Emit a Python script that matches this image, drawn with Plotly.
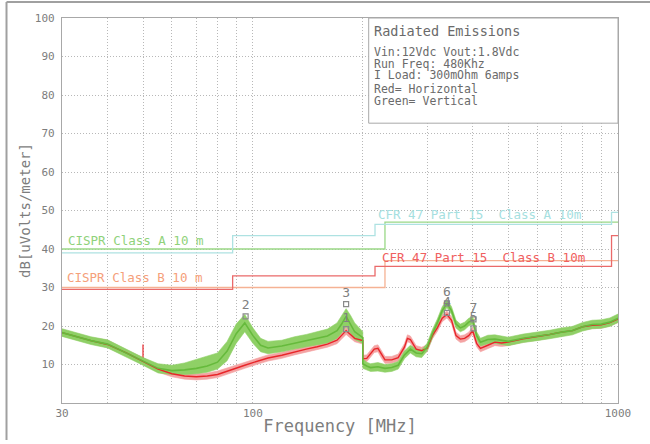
"""Radiated emissions scan with CISPR / FCC limit lines."""

import plotly.graph_objects as go

# --- measured spectrum, read as band (low/high) in dBuV/m ---
green_freq = [30, 33, 36, 40, 45, 50, 55, 60, 65, 70, 75, 80, 85, 90, 95, 100, 105, 110, 120, 130,
              140, 150, 160, 170, 175, 180, 185, 190, 200,
              200, 205, 210, 220, 230, 240, 250, 260, 270, 280, 290, 300, 310, 320, 330, 340, 350,
              360, 370, 380, 390, 400, 410, 420, 440, 460, 480, 500, 550, 600, 650, 700, 750, 800,
              850, 900, 950, 1000]
green_lo = [17.3, 16.2, 15.2, 14.3, 12.0, 9.8, 7.8, 7.4, 7.4, 7.6, 8.0, 8.8, 11.0, 15.5, 18.5, 15.5,
            13.3, 12.8, 13.3, 14.0, 14.6, 15.2, 15.6, 16.8, 18.2, 20.0, 18.2, 16.5, 15.5,
            9.0, 8.6, 8.2, 8.3, 8.0, 8.2, 8.8, 11.5, 13.0, 12.0, 11.8, 13.5, 17.0, 19.8, 23.0, 24.8,
            23.0, 19.5, 18.5, 19.0, 20.0, 20.5, 16.5, 14.8, 15.4, 15.5, 15.1, 14.9, 15.7, 16.2, 16.7,
            17.3, 17.7, 18.7, 19.3, 19.4, 19.9, 20.9]
green_hi = [19.3, 18.2, 17.2, 16.4, 14.0, 11.8, 10.2, 9.8, 10.4, 11.4, 12.2, 13.0, 16.0, 20.5, 23.0,
            19.5, 16.8, 16.0, 16.3, 17.2, 17.8, 18.5, 19.2, 20.8, 22.8, 24.5, 22.8, 20.8, 18.5,
            11.5, 10.6, 10.2, 10.5, 10.0, 10.2, 10.8, 13.5, 15.0, 14.0, 13.8, 15.5, 19.0, 21.8, 25.0,
            26.8, 25.0, 21.5, 20.5, 21.0, 22.0, 22.5, 18.5, 16.8, 17.6, 17.7, 17.3, 17.1, 17.9, 18.4,
            18.9, 19.5, 19.9, 20.9, 21.5, 21.6, 22.1, 23.1]
green_mid = [18.3, 17.2, 16.2, 15.3, 13.0, 10.8, 9.0, 8.4, 8.6, 9.0, 9.6, 10.6, 13.5, 18.0, 20.8,
             17.5, 15.0, 14.3, 14.8, 15.5, 16.2, 16.8, 17.4, 18.8, 20.5, 22.5, 20.5, 18.5, 17.0,
             10.2, 9.6, 9.2, 9.4, 9.0, 9.2, 9.8, 12.5, 14.0, 13.0, 12.8, 14.5, 18.0, 20.8, 24.0, 25.8,
             24.0, 20.5, 19.5, 20.0, 21.0, 21.5, 17.5, 15.8, 16.5, 16.6, 16.2, 16.0, 16.8, 17.3, 17.8,
             18.4, 18.8, 19.8, 20.4, 20.5, 21.0, 22.0]

red_freq = [30, 33, 36, 40, 45, 50, 55, 60, 65, 70, 75, 80, 85, 90, 95, 100, 105, 110, 120, 130,
            140, 150, 160, 170, 175, 180, 185, 190, 200,
            200, 205, 210, 215, 220, 225, 230, 240, 250, 260, 265, 270, 280, 290, 300, 310, 320, 330,
            340, 350, 360, 370, 380, 390, 400, 410, 420, 440, 460, 480, 500, 550, 600, 650, 700, 750,
            800, 850, 900, 950, 1000]
red_lo = [17.5, 16.4, 15.4, 14.4, 12.2, 10.0, 8.0, 6.8, 6.2, 6.0, 6.2, 6.6, 7.5, 8.2, 9.0, 9.7, 10.4,
          10.9, 11.6, 12.5, 13.2, 13.8, 14.5, 15.4, 16.6, 17.8, 16.9, 15.9, 15.3,
          10.6, 10.7, 11.9, 13.1, 13.3, 11.6, 10.3, 10.3, 10.9, 13.6, 15.9, 15.6, 13.1, 12.7, 13.3,
          16.6, 18.6, 21.1, 22.1, 20.6, 16.6, 15.7, 15.9, 16.6, 17.9, 14.6, 13.3, 14.1, 14.9, 14.7,
          14.9, 15.8, 16.3, 16.9, 17.5, 17.9, 18.9, 19.3, 19.4, 20.0, 20.9]
red_hi = [19.1, 18.0, 17.0, 16.3, 13.8, 11.8, 9.6, 8.4, 7.8, 7.6, 7.8, 8.3, 9.1, 9.8, 10.6, 11.3,
          12.0, 12.5, 13.2, 14.1, 14.8, 15.4, 16.1, 17.2, 18.4, 19.8, 18.7, 17.7, 17.1,
          12.4, 12.5, 13.7, 14.9, 15.1, 13.4, 12.1, 12.1, 12.7, 15.4, 17.7, 17.4, 14.9, 14.5, 15.1,
          18.4, 20.4, 22.9, 23.9, 22.4, 18.4, 17.5, 17.7, 18.4, 19.7, 16.4, 15.1, 15.9, 16.7, 16.5,
          16.7, 17.6, 18.1, 18.7, 19.3, 19.7, 20.7, 21.1, 21.2, 21.8, 22.7]
red_mid = [18.3, 17.2, 16.2, 15.2, 13.0, 10.8, 8.8, 7.6, 7.0, 6.8, 7.0, 7.4, 8.3, 9.0, 9.8, 10.5,
           11.2, 11.7, 12.4, 13.3, 14.0, 14.6, 15.3, 16.3, 17.5, 18.8, 17.8, 16.8, 16.2,
           11.5, 11.6, 12.8, 14.0, 14.2, 12.5, 11.2, 11.2, 11.8, 14.5, 16.8, 16.5, 14.0, 13.6, 14.2,
           17.5, 19.5, 22.0, 23.0, 21.5, 17.5, 16.6, 16.8, 17.5, 18.8, 15.5, 14.2, 15.0, 15.8, 15.6,
           15.8, 16.7, 17.2, 17.8, 18.4, 18.8, 19.8, 20.2, 20.3, 20.9, 21.8]
# single narrow spike on the horizontal scan
red_spike_freq = [50, 50]
red_spike_level = [10.8, 15.2]

# --- limit lines (step functions) ---
cispr_a_freq = [30, 230, 1000]
cispr_a_level = [40, 47, 47]
fcc_a_freq = [30, 88, 216, 960, 1000]
fcc_a_level = [39, 43.5, 46.4, 49.5, 49.5]
fcc_b_freq = [30, 88, 216, 960, 1000]
fcc_b_level = [29.5, 33, 35.5, 43.5, 43.5]
cispr_b_freq = [30, 230, 1000]
cispr_b_level = [30, 37, 37]

# --- peak markers ---
marker_freq = [180, 95.5, 180, 340, 402, 340, 402]
marker_level = [19.2, 22.5, 25.7, 23.4, 19.4, 25.9, 21.7]
marker_label = ["1", "2", "3", "4", "5", "6", "7"]

grid_freqs = [30, 40, 50, 60, 70, 80, 90, 100, 200, 300, 400, 500, 600, 700, 800, 900, 1000]
x_tick_labels = ["30", "", "", "", "", "", "", "100", "", "", "", "", "", "", "", "", "1000"]
y_ticks = [10, 20, 30, 40, 50, 60, 70, 80, 90, 100]

info_lines = ["Vin:12Vdc Vout:1.8Vdc", "Run Freq: 480Khz", "I Load: 300mOhm 6amps",
              "Red= Horizontal", "Green= Vertical"]

MONO = "DejaVu Sans Mono"
GRAY = "#7d7d7d"
GRID = "#b8b8b8"

fig = go.Figure()


def band(freq, lo, hi, color):
    return go.Scatter(x=freq + freq[::-1], y=hi + lo[::-1], fill="toself", fillcolor=color,
                      line=dict(width=0.6, color=color), mode="lines", hoverinfo="skip",
                      showlegend=False)


for f, lv, c in [(cispr_b_freq, cispr_b_level, "#f5b294"), (fcc_b_freq, fcc_b_level, "#ea6a6a"),
                 (cispr_a_freq, cispr_a_level, "#9ad887"), (fcc_a_freq, fcc_a_level, "#aee2e2")]:
    fig.add_trace(go.Scatter(x=f, y=lv, mode="lines", line=dict(shape="hv", width=1.3, color=c),
                             showlegend=False))

fig.add_trace(band(red_freq, red_lo, red_hi, "#f4a3a3"))
fig.add_trace(go.Scatter(x=red_spike_freq, y=red_spike_level, mode="lines",
                         line=dict(width=1.2, color="#e8262a"), showlegend=False))
fig.add_trace(band(green_freq, green_lo, green_hi, "#8fd066"))
fig.add_trace(go.Scatter(x=red_freq, y=red_mid, mode="lines", line=dict(width=1.4, color="#e8262a"),
                         name="Horizontal", showlegend=False))
fig.add_trace(go.Scatter(x=green_freq, y=green_mid, mode="lines", line=dict(width=1.6, color="#66ba3c"),
                         name="Vertical", showlegend=False))

fig.add_trace(go.Scatter(
    x=marker_freq, y=marker_level, mode="markers+text", text=marker_label,
    textposition="top center", textfont=dict(family=MONO, size=13, color="#808080"),
    marker=dict(symbol="square-open", size=5, color="#8a8a8a", line=dict(width=1.2)),
    showlegend=False,
))

# limit labels
for txt, x, y, c in [("CISPR Class A 10 m", 66, 240, "#8fd27a"),
                     ("CISPR Class B 10 m", 65, 277.5, "#f5a07a"),
                     ("CFR 47 Part 15  Class A 10m", 376, 214, "#a6e0e0"),
                     ("CFR 47 Part 15  Class B 10m", 380, 257, "#f06060")]:
    fig.add_annotation(x=(x - 62.3) / 556, y=(402.8 - y) / 385, xref="paper", yref="paper", text=txt,
                       showarrow=False, xanchor="left", yanchor="middle",
                       font=dict(family=MONO, size=12.5, color=c))

# info box
fig.add_shape(type="rect", xref="paper", yref="paper", x0=0.5516, x1=1.0, y0=0.7268, y1=1.0,
              line=dict(color="#a8a8a8", width=1), fillcolor="white", layer="above")
fig.add_annotation(x=0.5583, y=(402.8 - 31) / 385, xref="paper", yref="paper", text="Radiated Emissions",
                   showarrow=False, xanchor="left", yanchor="middle",
                   font=dict(family=MONO, size=13.5, color="#6a6a6a"))
for i, line in enumerate(info_lines):
    ypx = [52, 63.5, 75, 89, 101][i]
    fig.add_annotation(x=0.5583, y=(402.8 - ypx) / 385, xref="paper", yref="paper", text=line,
                       showarrow=False, xanchor="left", yanchor="middle",
                       font=dict(family=MONO, size=11.5, color="#6a6a6a"))

# outer frame (top and left edges of the page)
fig.add_shape(type="line", xref="paper", yref="paper", x0=-0.0998, x1=1.07, y0=1.0415, y1=1.0415,
              line=dict(color="#a0a0a0", width=2), layer="above")
fig.add_shape(type="line", xref="paper", yref="paper", x0=-0.0998, x1=-0.0998, y0=-0.096, y1=1.0415,
              line=dict(color="#a0a0a0", width=2), layer="above")

fig.update_layout(
    width=650, height=444,
    margin=dict(l=62, r=32, t=18, b=41),
    plot_bgcolor="white", paper_bgcolor="white",
    font=dict(family=MONO, color=GRAY),
    xaxis=dict(
        type="log", range=[1.4771, 3.0], tickvals=grid_freqs, ticktext=x_tick_labels,
        showgrid=True, gridcolor=GRID, griddash="1px,2px", gridwidth=1,
        showline=True, linecolor="#a8a8a8", linewidth=1.2, mirror=True, ticks="",
        tickfont=dict(family=MONO, size=11, color=GRAY), automargin=False,
        title=dict(text="Frequency [MHz]", font=dict(family=MONO, size=17, color=GRAY), standoff=0),
        zeroline=False,
    ),
    yaxis=dict(
        range=[0, 100], tickvals=y_ticks, showgrid=True, gridcolor=GRID, griddash="1px,2px", gridwidth=1,
        showline=True, linecolor="#a8a8a8", linewidth=1.2, mirror=True, ticks="",
        tickfont=dict(family=MONO, size=11, color=GRAY), ticklabelstandoff=4, automargin=False,
        title=dict(text="dB[uVolts/meter]", font=dict(family=MONO, size=14, color=GRAY), standoff=0),
        zeroline=False,
    ),
    showlegend=False,
)

# page body has a default 8px margin; remove it so the figure sits at the window origin
fig.write_html("out.html", config={"displayModeBar": False},
               post_script="document.body.style.margin='0';")
